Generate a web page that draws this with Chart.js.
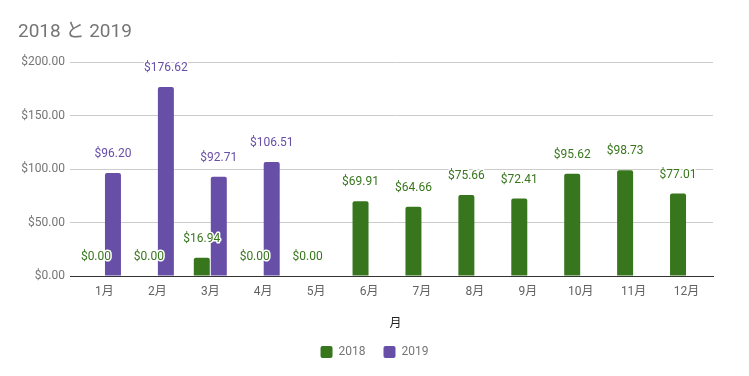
<!DOCTYPE html>
<html>
<head>
<meta charset="utf-8">
<script src="https://cdn.jsdelivr.net/npm/chart.js@4"></script>
<style>
  html, body { margin: 0; padding: 0; background: #fff; }
  #wrap { width: 749px; height: 376px; position: relative; }
</style>
</head>
<body>
<div id="wrap"><canvas id="chart"></canvas></div>
<script>
var months = ["1月", "2月", "3月", "4月", "5月", "6月", "7月", "8月", "9月", "10月", "11月", "12月"];
var sales2018 = [0, 0, 16.94, 0, 0, 69.91, 64.66, 75.66, 72.41, 95.62, 98.73, 77.01];
var sales2019 = [96.20, 176.62, 92.71, 106.51, null, null, null, null, null, null, null, null];
var yTicks = [0, 50, 100, 150, 200];

var green = "#38761d";
var purple = "#674ea7";

Chart.defaults.font.family = "Roboto, 'Noto Sans CJK JP', sans-serif";

// title drawn by hand so it sits at the far left like the original
var titlePlugin = {
  id: "titleText",
  afterLayout: (chart) => {
    // nudge the legend so it sits where the original has it
    chart.legend.left += 18;
    chart.legend.top -= 4;
    chart.legend.bottom -= 4;
  },
  afterDraw: (chart) => {
    var ctx = chart.ctx;
    ctx.save();
    ctx.font = "19px Roboto, 'Noto Sans CJK JP', sans-serif";
    ctx.fillStyle = "#757575";
    ctx.textBaseline = "middle";
    ctx.fillText("2018 と 2019", 18, 32);
    ctx.restore();
  },
};

// value labels above each bar
var labelPlugin = {
  id: "barLabels",
  afterDatasetsDraw: (chart) => {
    var ctx = chart.ctx;
    ctx.save();
    ctx.font = "12px Roboto, sans-serif";
    ctx.textAlign = "center";
    ctx.textBaseline = "middle";
    ctx.lineJoin = "round";
    chart.data.datasets.forEach((ds, i) => {
      var meta = chart.getDatasetMeta(i);
      meta.data.forEach((bar, j) => {
        var v = ds.data[j];
        if (v == null) return;
        var txt = "$" + v.toFixed(2);
        ctx.lineWidth = 3;
        ctx.strokeStyle = "#fff";
        ctx.strokeText(txt, bar.x, bar.y - 19);
        ctx.fillStyle = ds.backgroundColor;
        ctx.fillText(txt, bar.x, bar.y - 19);
      });
    });
    ctx.restore();
  },
};

var config = {
  type: "bar",
  data: {
    labels: months,
    datasets: [
      {
        label: "2018",
        data: sales2018,
        backgroundColor: green,
        borderRadius: { topLeft: 2, topRight: 2 },
        borderSkipped: "bottom",
        categoryPercentage: 0.643,
        barPercentage: 0.94,
      },
      {
        label: "2019",
        data: sales2019,
        backgroundColor: purple,
        borderRadius: { topLeft: 2, topRight: 2 },
        borderSkipped: "bottom",
        categoryPercentage: 0.643,
        barPercentage: 0.94,
      },
    ],
  },
  options: {
    responsive: true,
    maintainAspectRatio: false,
    animation: false,
    layout: {
      padding: { top: 62, left: 18, right: 36, bottom: 4 },
    },
    plugins: {
      title: { display: false },
      tooltip: { enabled: false },
      legend: {
        position: "bottom",
        labels: {
          boxWidth: 12,
          boxHeight: 12,
          color: "#757575",
          font: { size: 12 },
          padding: 18,
          useBorderRadius: true,
          borderRadius: 2,
        },
      },
    },
    scales: {
      x: {
        grid: { display: false, drawTicks: false },
        border: { color: "#333", width: 1 },
        ticks: { color: "#616161", font: { size: 12 }, padding: 9, maxRotation: 0 },
        title: {
          display: true,
          text: "月",
          color: "#222",
          font: { size: 12 },
          padding: { top: 16, bottom: 1 },
        },
        afterFit: (s) => {
          s.height = 56;
        },
      },
      y: {
        min: 0,
        max: 200,
        afterBuildTicks: (s) => {
          s.ticks = yTicks.map((v) => ({ value: v }));
        },
        grid: {
          color: "#cccccc",
          drawTicks: true,
          tickLength: 8,
          tickColor: (c) => (c.tick && c.tick.value === 0 ? "#333" : "#cccccc"),
        },
        border: { display: false },
        ticks: {
          color: "#757575",
          font: { size: 12 },
          padding: 5,
          callback: (v) => "$" + Number(v).toFixed(2),
        },
        afterFit: (s) => {
          s.width = 60;
        },
      },
    },
  },
  plugins: [titlePlugin, labelPlugin],
};

var myChart = new Chart(document.getElementById("chart"), config);
</script>
</body>
</html>
